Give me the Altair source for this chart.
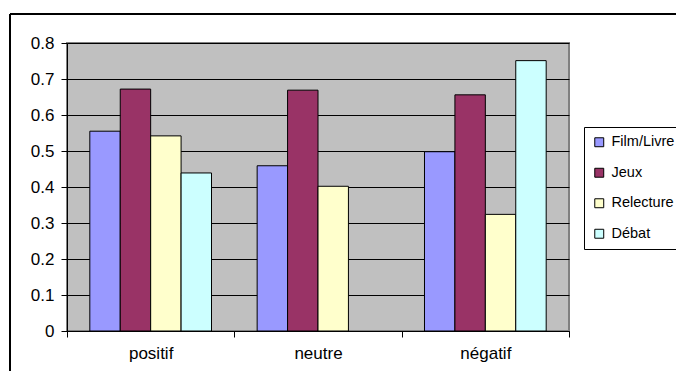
import altair as alt
import pandas as pd

categories = ["positif", "neutre", "négatif"]
series = ["Film/Livre", "Jeux", "Relecture", "Débat"]
colors = ["#9999FF", "#993366", "#FFFFCC", "#CCFFFF"]
film_livre = [0.555, 0.459, 0.498]
jeux = [0.672, 0.669, 0.656]
relecture = [0.542, 0.402, 0.324]
debat = [0.439, None, 0.751]

rows = []
for s, vals in zip(series, [film_livre, jeux, relecture, debat]):
    for c, v in zip(categories, vals):
        if v is not None:
            rows.append({"categorie": c, "serie": s, "valeur": v})
df = pd.DataFrame(rows)

font = "Liberation Sans"
fs = 17

bars = alt.Chart(df).mark_bar(stroke="black", strokeWidth=1, opacity=1).encode(
    x=alt.X("categorie:N", sort=categories, title=None,
            scale=alt.Scale(paddingInner=0, paddingOuter=0),
            axis=alt.Axis(labelAngle=0, tickBand="extent", tickSize=6, labelPadding=8,
                          domainColor="black", tickColor="black", labelColor="black",
                          labelFont=font, labelFontSize=fs, grid=False)),
    xOffset=alt.XOffset("serie:N", sort=series,
                        scale=alt.Scale(paddingInner=0, paddingOuter=0.75)),
    y=alt.Y("valeur:Q", title=None,
            scale=alt.Scale(domain=[0, 0.8], nice=False),
            axis=alt.Axis(values=[0, 0.1, 0.2, 0.3, 0.4, 0.5, 0.6, 0.7, 0.8],
                          labelExpr="datum.value == 0 ? '0' : format(datum.value, '.1f')",
                          tickSize=6, labelPadding=7, grid=True, gridColor="black",
                          gridOpacity=1, gridWidth=1, domainColor="black", tickColor="black",
                          labelColor="black", labelFont=font, labelFontSize=fs)),
    color=alt.Color("serie:N", sort=series,
                    scale=alt.Scale(domain=series, range=colors),
                    legend=alt.Legend(title=None, orient="none", legendX=517, legendY=84,
                                      symbolType="square", symbolSize=80,
                                      symbolStrokeColor="black", symbolStrokeWidth=1,
                                      symbolOpacity=1,
                                      labelFont=font, labelFontSize=14.5, labelColor="black",
                                      labelOffset=5, rowPadding=15.5, padding=8,
                                      strokeColor="black", fillColor="white")),
)

border = alt.Chart(df).mark_rect(fill=None, stroke="black", strokeWidth=1, clip=False).encode(
    x=alt.value(-57), x2=alt.value(700), y=alt.value(-29), y2=alt.value(400)
)

chart = alt.layer(border, bars).properties(
    width=502, height=288,
    autosize=alt.AutoSizeParams(type="none"),
    padding={"left": 59, "top": 35, "right": 107, "bottom": 40},
    background="white",
).configure_view(fill="#C0C0C0", stroke="#808080", strokeWidth=2)

chart.save("out.html", embed_options={"renderer": "svg", "actions": False})
